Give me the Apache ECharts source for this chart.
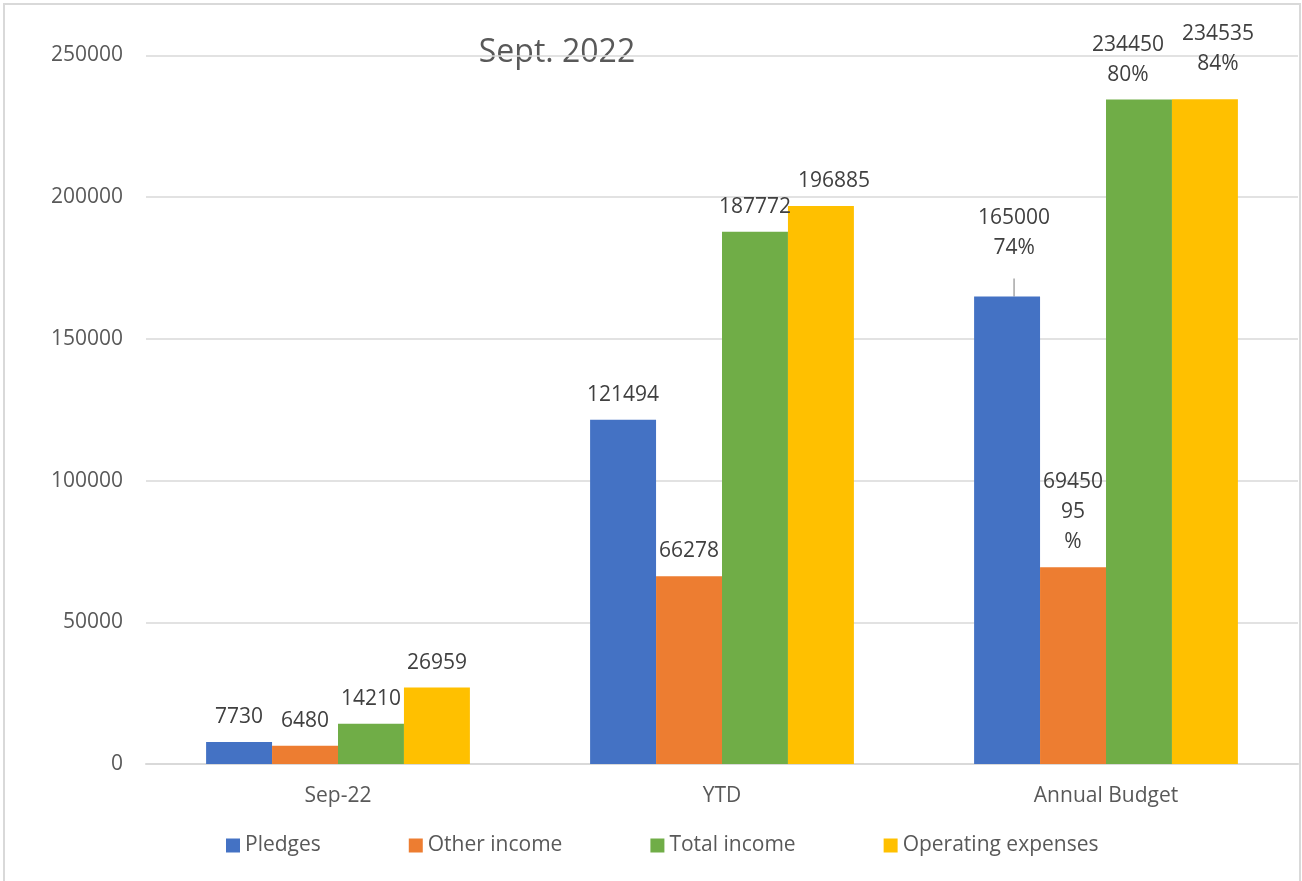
<!DOCTYPE html>
<html>
<head>
<meta charset="utf-8">
<script src="https://cdn.jsdelivr.net/npm/echarts@6/dist/echarts.min.js"></script>
<style>
  html, body { margin: 0; padding: 0; background: #fff; overflow: hidden; }
  #chart { position: absolute; left: 0; top: 0; width: 1302px; height: 881px; }
  #frame { position: absolute; left: 3px; top: 3px; width: 1294px; height: 900px;
           border: 2px solid #d9d9d9; pointer-events: none; }
</style>
</head>
<body>
<div id="chart"></div>
<div id="frame"></div>
<script>
const titleText = 'Sept. 2022';
const categories = ['Sep-22', 'YTD', 'Annual Budget'];
const seriesNames = ['Pledges', 'Other income', 'Total income', 'Operating expenses'];
const pledges = [7730, 121494, 165000];
const otherIncome = [6480, 66278, 69450];
const totalIncome = [14210, 187772, 234450];
const operatingExpenses = [26959, 196885, 234535];
// share of annual budget shown on the "Annual Budget" labels
const budgetPct = ['74%', '95%', '80%', '84%'];
const yTicks = [0, 50000, 100000, 150000, 200000, 250000];

const colors = ['#4472C4', '#ED7D31', '#70AD47', '#FFC000'];
const FONT = '"Open Sans", "Noto Sans", sans-serif';
const LABEL_COLOR = '#404040';
const AXIS_COLOR = '#595959';

// per-item label tweaks (styling only)
const labelTweaks = [
  { 2: { distance: 18, padding: [0, 0, 15, 0], backgroundColor: 'rgba(0,0,0,0)', line: true, shiftX: 7 } },
  { },
  { 2: { offset: [-11, 0] } },
  { 1: { offset: [13, 0] }, 2: { offset: [13, -10] } }
];

function makeData(values, sIdx) {
  return values.map(function (v, i) {
    const t = labelTweaks[sIdx][i];
    let text = String(v);
    if (i === 2) {
      let pct = budgetPct[sIdx];
      if (sIdx === 1) pct = pct.replace('%', '\n%');
      text = v + '\n' + pct;
    }
    const item = { value: v, label: { formatter: text } };
    if (t) {
      if (t.offset) item.label.offset = t.offset;
      if (t.distance != null) item.label.distance = t.distance;
      if (t.padding) item.label.padding = t.padding;
      if (t.backgroundColor) item.label.backgroundColor = t.backgroundColor;
      if (t.line) item.labelLine = { show: true, lineStyle: { color: '#a6a6a6', width: 1.5 } };
    }
    return item;
  });
}

const allValues = [pledges, otherIncome, totalIncome, operatingExpenses];

function makeLabelLayout(sIdx) {
  return function (params) {
    const t = labelTweaks[sIdx][params.dataIndex];
    if (!t || !t.shiftX) return {};
    const r = params.labelRect;
    return {
      x: r.x + r.width / 2 + t.shiftX,
      y: r.y + r.height,
      align: 'center',
      verticalAlign: 'bottom'
    };
  };
}

const chart = echarts.init(document.getElementById('chart'), null, { renderer: 'canvas' });
chart.setOption({
  animation: false,
  backgroundColor: '#ffffff',
  color: colors,
  textStyle: { fontFamily: FONT },
  graphic: [{
    type: 'text', x: 557, y: 53,
    style: { text: titleText, align: 'center', verticalAlign: 'middle',
             fontSize: 32, fill: AXIS_COLOR, fontFamily: FONT }
  }],
  legend: {
    left: 226, top: 835, padding: 0,
    itemWidth: 14, itemHeight: 14, itemGap: 88,
    icon: 'rect',
    textStyle: { fontSize: 21, color: AXIS_COLOR, fontFamily: FONT },
    data: seriesNames
  },
  grid: { left: 146, right: 4, top: 55.5, bottom: 117, containLabel: false },
  xAxis: {
    type: 'category',
    data: categories,
    axisLine: { lineStyle: { color: '#d9d9d9', width: 2 } },
    axisTick: { show: false },
    axisLabel: { fontSize: 21, color: AXIS_COLOR, margin: 22, fontFamily: FONT }
  },
  yAxis: {
    type: 'value',
    min: yTicks[0], max: yTicks[yTicks.length - 1], interval: yTicks[1] - yTicks[0],
    axisLine: { show: false },
    axisTick: { show: false },
    axisLabel: { fontSize: 21, color: AXIS_COLOR, margin: 23, fontFamily: FONT,
                 formatter: function (v) { return String(v); } },
    splitLine: { lineStyle: { color: '#d9d9d9', width: 1.5 } }
  },
  series: allValues.map(function (vals, s) {
    const ser = {
      name: seriesNames[s],
      type: 'bar',
      barGap: '0%',
      barCategoryGap: '31.3%',
      data: makeData(vals, s),
      itemStyle: { color: colors[s] },
      label: {
        show: true, position: 'top', distance: 10,
        fontSize: 21, lineHeight: 30, color: LABEL_COLOR, fontFamily: FONT
      }
    };
    if (s === 0) ser.labelLayout = makeLabelLayout(s);
    return ser;
  })
});
</script>
</body>
</html>
